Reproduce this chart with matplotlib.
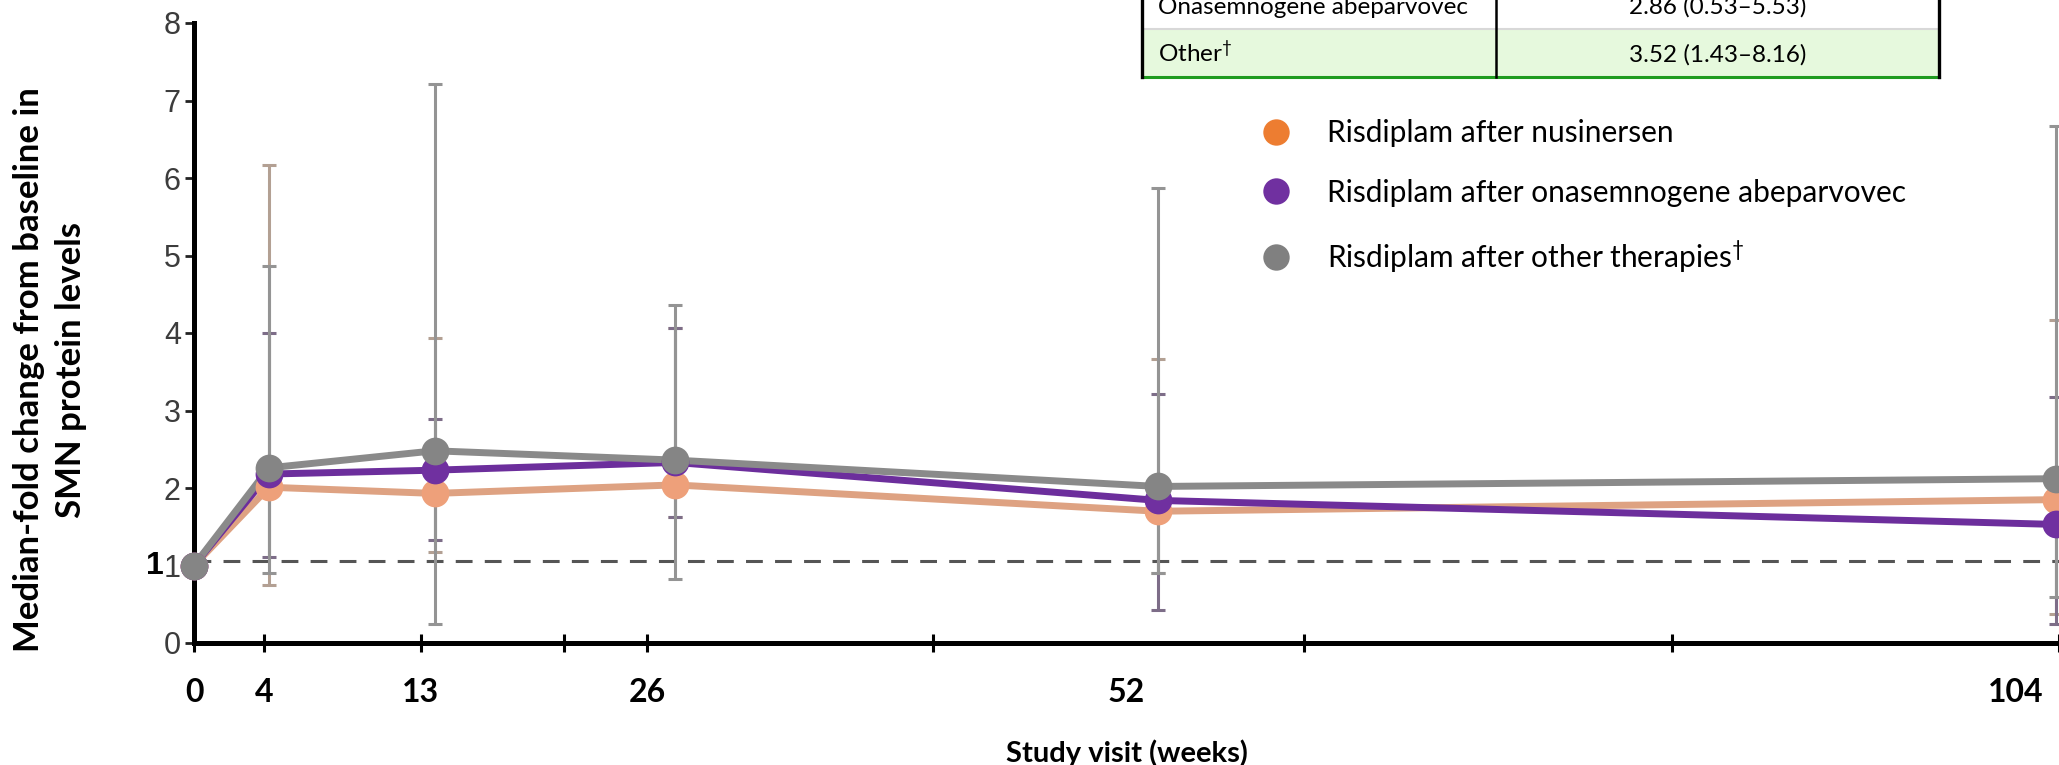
import numpy as np
import matplotlib
matplotlib.use("Agg")
import matplotlib.pyplot as plt
from matplotlib.lines import Line2D
from matplotlib.patches import Rectangle
from matplotlib.transforms import blended_transform_factory

plt.rcParams["font.family"] = ["Lato", "DejaVu Sans"]
plt.rcParams["mathtext.fontset"] = "custom"
plt.rcParams["mathtext.rm"] = "Lato"
plt.rcParams["mathtext.default"] = "regular"

# ---------------------------------------------------------------------------
# Data
# ---------------------------------------------------------------------------
visit_labels = [0, 4, 13, 26, 52, 104]            # x tick label texts (weeks)
label_pos = [0, 4, 13, 26, 53.5, 104.5]           # where those labels sit
visit_pos = [0, 4.3, 13.8, 27.6, 55.3, 106.8]     # where the points sit
axis_ticks = [0, 4, 13, 21.2, 26, 42.4, 63.7, 84.8, 107]

nus_med = [1.0, 2.01, 1.93, 2.04, 1.70, 1.85]
nus_lo = [1.0, 0.75, 1.17, 1.62, 0.90, 0.37]
nus_hi = [1.0, 6.17, 3.94, 4.06, 3.67, 4.17]

ona_med = [1.0, 2.18, 2.23, 2.33, 1.84, 1.53]
ona_lo = [1.0, 1.11, 1.33, 1.62, 0.43, 0.25]
ona_hi = [1.0, 4.00, 2.89, 4.06, 3.21, 3.18]

oth_med = [1.0, 2.26, 2.48, 2.36, 2.02, 2.12]
oth_lo = [1.0, 0.90, 0.24, 0.82, 0.90, 0.59]
oth_hi = [1.0, 4.86, 7.21, 4.36, 5.87, 6.67]

baseline = 1.06

series_names = ["Risdiplam after nusinersen",
                "Risdiplam after onasemnogene abeparvovec",
                "Risdiplam after other therapies$^{†}$"]

table_names = ["Onasemnogene abeparvovec", "Other$^{†}$"]
table_values = ["2.86 (0.53–5.53)", "3.52 (1.43–8.16)"]

# ---------------------------------------------------------------------------
# Figure
# ---------------------------------------------------------------------------
W, H = 2059, 765
fig = plt.figure(figsize=(W / 100, H / 100), dpi=100)
ax = fig.add_axes([194 / W, 122 / H, (W - 194) / W, 620 / H])
ax.set_xlim(0, 107)
ax.set_ylim(0, 8)

series = [
    (nus_med, nus_lo, nus_hi, "#dea282", "#eea07a", "#b3a093"),
    (ona_med, ona_lo, ona_hi, "#6c2e9c", "#7030a0", "#7d6d88"),
    (oth_med, oth_lo, oth_hi, "#8a8a8a", "#858585", "#949494"),
]
x = np.array(visit_pos)
for med, lo, hi, lc, mc, ec in series:
    med = np.array(med)
    yerr = [med - np.array(lo), np.array(hi) - med]
    ax.errorbar(x, med, yerr=yerr, fmt="none", ecolor=ec, elinewidth=2.2,
                capsize=5, capthick=2.2, zorder=2, clip_on=False)
    ax.plot(x, med, color=lc, lw=5, zorder=3, clip_on=False)
    ax.plot(x, med, "o", color=mc, ms=20, mec="none", zorder=4, clip_on=False)

ax.axhline(baseline, color="#555555", lw=2.2, ls=(0, (5.5, 4)), zorder=1)

# axes styling
for s in ["top", "right"]:
    ax.spines[s].set_visible(False)
for s in ["left", "bottom"]:
    ax.spines[s].set_linewidth(3.6)
    ax.spines[s].set_color("black")

ax.set_yticks(range(0, 9))
ax.tick_params(axis="y", length=6.5, width=2, color="#222222", pad=3,
               labelsize=22, labelcolor="#3c3c3c")
for lab in ax.get_yticklabels():
    lab.set_fontfamily(["Liberation Sans", "DejaVu Sans"])

ax.xaxis.remove_overlapping_locs = False
ax.set_xticks(label_pos)
ax.set_xticklabels([str(v) for v in visit_labels], fontweight="bold", fontsize=23)
ax.tick_params(axis="x", which="major", length=0, pad=25)
ax.set_xticks(axis_ticks, minor=True)
ax.tick_params(axis="x", which="minor", direction="inout", length=13, width=2.2,
               color="black")

ax.set_xlabel("Study visit (weeks)", fontweight="bold", fontsize=21)
ax.xaxis.set_label_coords(0.50, -0.155)

# stray bold "1" next to the y tick label
trans = blended_transform_factory(ax.transAxes, ax.transData)
ax.text(-0.021, 1.0, "1", transform=trans, ha="center", va="center",
        fontsize=23, fontweight="bold", color="black",
        family=["Liberation Sans", "DejaVu Sans"])

fig.text(50 / W, 1 - 370 / H,
         "Median-fold change from baseline in\nSMN protein levels",
         rotation=90, ha="center", va="center", multialignment="center",
         fontsize=25, fontweight="bold", linespacing=1.35)

# legend
handles = [Line2D([], [], ls="none", marker="o", ms=19, mec="none", color=c)
           for c in ["#ED7D31", "#7030A0", "#808080"]]
fig.legend(handles, series_names, loc="upper left",
           bbox_to_anchor=(1262 / W, 1 - 119 / H), bbox_transform=fig.transFigure,
           frameon=False, fontsize=21.5, handlelength=0.93, handletextpad=1.25,
           labelspacing=1.06, borderpad=0, borderaxespad=0)

# summary table (top right)
tl, td, tr = 1142, 1496, 1939
row_top = [-19, 29]
row_h = 48
bgs = ["white", "#e6f9dd"]
for i in range(2):
    y0 = H - (row_top[i] + row_h)
    fig.add_artist(Rectangle((tl / W, y0 / H), (tr - tl) / W, row_h / H,
                             transform=fig.transFigure, facecolor=bgs[i],
                             edgecolor="none", zorder=5))
    fig.text(1158 / W, (H - row_top[i] - 33) / H, table_names[i],
             ha="left", va="baseline", fontsize=17.5, zorder=6)
    fig.text((td + tr) / 2 / W, (H - row_top[i] - 33) / H, table_values[i],
             ha="center", va="baseline", fontsize=17.5, zorder=6)
fig.add_artist(Line2D([tl / W, tr / W], [(H - 29) / H] * 2,
                      transform=fig.transFigure, color="#d8d8d8", lw=1.5, zorder=6))
fig.add_artist(Line2D([tl / W, tr / W], [(H - 77) / H] * 2,
                      transform=fig.transFigure, color="#1f9b1f", lw=2.2, zorder=7))
for xv, lw in [(tl, 2.4), (td, 1.8), (tr, 2.4)]:
    fig.add_artist(Line2D([xv / W] * 2, [(H - 77) / H, 1.0],
                          transform=fig.transFigure, color="black", lw=lw, zorder=7))

fig.savefig("out.png", dpi=100)
